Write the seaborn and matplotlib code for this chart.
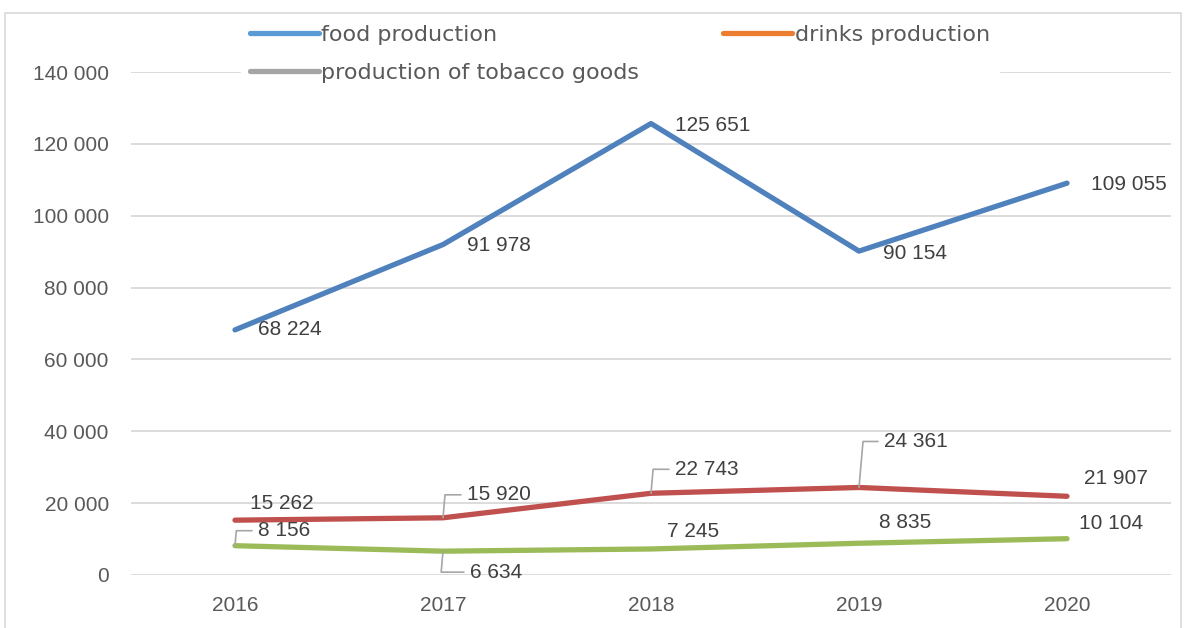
import matplotlib
matplotlib.use("Agg")
import matplotlib.pyplot as plt
import seaborn as sns
import pandas as pd
from matplotlib.lines import Line2D
from matplotlib.patches import Rectangle
from matplotlib.ticker import FuncFormatter

years = ["2016", "2017", "2018", "2019", "2020"]
food = [68224, 91978, 125651, 90154, 109055]
drinks = [15262, 15920, 22743, 24361, 21907]
tobacco = [8156, 6634, 7245, 8835, 10104]
series_names = ["food production", "drinks production", "production of tobacco goods"]
line_colors = ["#4F81BD", "#C0504D", "#9BBB59"]
legend_colors = ["#5B9BD5", "#ED7D31", "#A5A5A5"]

df = pd.DataFrame({
    "year": years * 3,
    "value": food + drinks + tobacco,
    "series": [series_names[0]] * 5 + [series_names[1]] * 5 + [series_names[2]] * 5,
})

sns.set_theme(style="white")
plt.rcParams["font.family"] = ["Liberation Sans", "DejaVu Sans"]

fig = plt.figure(figsize=(11.92, 6.28), dpi=100)
ax = fig.add_axes([131 / 1192, 53 / 628, 1040 / 1192, 503 / 628])

sns.lineplot(data=df, x="year", y="value", hue="series", hue_order=series_names,
             palette=line_colors, linewidth=3.8, ax=ax, legend=False,
             solid_capstyle="round", zorder=3)

ax.set_xlim(-0.5, 4.5)
ax.set_ylim(0, 140000)
ax.set_yticks(range(0, 140001, 20000))
ax.yaxis.set_major_formatter(FuncFormatter(lambda v, p: f"{int(v):,}".replace(",", " ")))
ax.grid(axis="y", color="#D9D9D9", linewidth=1.3, zorder=0)
ax.grid(axis="x", visible=False)
for s in ax.spines.values():
    s.set_visible(False)
ax.tick_params(axis="both", length=0, labelsize=15, labelcolor="#595959")
ax.tick_params(axis="y", pad=16)
ax.tick_params(axis="x", pad=15)
ax.set_xlabel("")
ax.set_ylabel("")

label_color = "#404040"
lead = dict(arrowstyle="-", color="#A6A6A6", lw=1.2, shrinkA=2, shrinkB=0,
            connectionstyle="angle,angleA=0,angleB=85,rad=0")

# (dx, dy, leader) offsets in pixels
food_off = [(23, 0, False), (24, -1, False), (24, -2, False), (24, -2, False), (24, -1, False)]
drinks_off = [(15, 17, False), (24, 23, True), (24, 24, True), (25, 46, True), (17, 18, False)]
tob_off = [(23, 15, True), (27, -21, True), (16, 17, False), (20, 21, False), (12, 15, False)]

for vals, offs in [(food, food_off), (drinks, drinks_off), (tobacco, tob_off)]:
    for i, (v, (dx, dy, ld)) in enumerate(zip(vals, offs)):
        txt = f"{v:,}".replace(",", " ")
        ax.annotate(txt, xy=(i, v), xytext=(dx, dy), textcoords="offset pixels",
                    ha="left", va="center", fontsize=15, color=label_color,
                    arrowprops=lead if ld else None, zorder=4)

handles = [Line2D([0], [0], color=c, lw=3.8, solid_capstyle="round") for c in legend_colors]
order = [0, 2, 1]
leg = fig.legend([handles[i] for i in order], [series_names[i] for i in order],
                 loc="upper left", bbox_to_anchor=(241 / 1192, 1 - 16 / 628),
                 bbox_transform=fig.transFigure, ncol=2, frameon=True,
                 facecolor="white", edgecolor="white", framealpha=1,
                 handlelength=3.1, handletextpad=0.1,
                 columnspacing=3.8, labelspacing=0.82, borderpad=0.4,
                 borderaxespad=0, prop={"family": "DejaVu Sans", "size": 16})
for t in leg.get_texts():
    t.set_color("#595959")
leg.set_zorder(10)

border = Rectangle((5 / 1192, -0.05), 1176 / 1192, 1.05 - 13 / 628,
                   transform=fig.transFigure, fill=False,
                   edgecolor="#D9D9D9", linewidth=1.2, zorder=20)
fig.add_artist(border)

fig.savefig("out.png", dpi=100)
